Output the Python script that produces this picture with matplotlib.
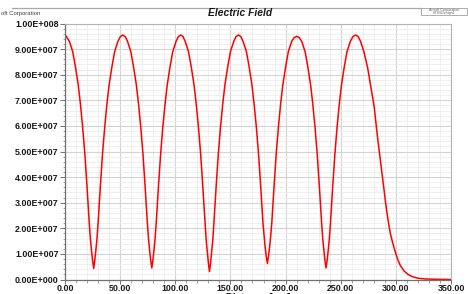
import numpy as np
import matplotlib
matplotlib.use("Agg")
import matplotlib.pyplot as plt
from matplotlib.ticker import MultipleLocator, FuncFormatter

# Electric field magnitude along the structure
# distance in um, field in units of 1e7
dist = [
    0, 4, 7, 9.5, 12, 14, 16, 18, 20, 22, 23, 24, 25, 26,
    27, 28, 29, 30, 32, 34, 36, 38, 40, 42.5, 45, 48, 50.2, 52.4,
    54.6, 56.7, 59.7, 62.2, 64.7, 66.7, 68.7, 70.7, 72.7, 74.7, 75.7, 76.7, 77.7, 78.7,
    79.7, 80.7, 81.7, 82.7, 84.7, 86.7, 88.7, 90.7, 92.7, 95.2, 97.7, 100.7, 102.8, 104.9,
    107, 109, 112, 114.5, 117, 119, 121, 123, 125, 127, 128, 129, 130, 131,
    132, 133, 134, 135, 137, 139, 141, 143, 145, 147.5, 150, 153, 155.1, 157.2,
    159.4, 161.5, 164.5, 167, 169.5, 171.5, 173.5, 175.5, 177.5, 179.5, 180.5, 181.5, 182.5, 183.5,
    184.5, 185.5, 186.5, 187.5, 189.5, 191.5, 193.5, 195.5, 197.5, 200, 202.5, 205.5, 207.8, 210.1,
    212.4, 214.7, 217.7, 220.2, 222.7, 224.7, 226.7, 228.7, 230.7, 232.7, 233.7, 234.7, 235.7, 236.7,
    237.7, 238.7, 239.7, 240.7, 242.7, 244.7, 246.7, 248.7, 250.7, 253.2, 255.7, 258.7, 261.1, 263.5,
    265.8, 268, 271, 274.3, 277, 280.4, 283, 285, 287, 289, 291, 293, 295, 297, 299,
    301.5, 304, 307.5, 311, 315, 320, 327, 335, 350,
]
efield = [
    9.57, 9.3, 8.9, 8.3, 7.6, 6.85, 5.95, 4.9, 3.6, 2.2, 1.6, 1.15, 0.75, 0.43,
    0.75, 1.15, 1.6, 2.2, 3.6, 4.9, 5.95, 6.85, 7.6, 8.3, 8.9, 9.3, 9.49, 9.55,
    9.49, 9.3, 8.9, 8.3, 7.6, 6.85, 5.95, 4.9, 3.6, 2.2, 1.6, 1.15, 0.75, 0.45,
    0.75, 1.15, 1.6, 2.2, 3.6, 4.9, 5.95, 6.85, 7.6, 8.3, 8.9, 9.3, 9.49, 9.55,
    9.49, 9.3, 8.9, 8.3, 7.6, 6.85, 5.95, 4.9, 3.6, 2.2, 1.55, 1.1, 0.65, 0.31,
    0.65, 1.1, 1.55, 2.2, 3.6, 4.9, 5.95, 6.85, 7.6, 8.3, 8.9, 9.3, 9.49, 9.55,
    9.49, 9.3, 8.9, 8.3, 7.6, 6.85, 5.95, 4.9, 3.6, 2.2, 1.7, 1.25, 0.9, 0.63,
    0.9, 1.25, 1.7, 2.2, 3.6, 4.9, 5.95, 6.85, 7.6, 8.3, 8.9, 9.3, 9.45, 9.5,
    9.45, 9.3, 8.9, 8.3, 7.6, 6.85, 5.95, 4.9, 3.6, 2.2, 1.6, 1.15, 0.75, 0.45,
    0.75, 1.15, 1.6, 2.2, 3.6, 4.9, 5.95, 6.85, 7.6, 8.3, 8.9, 9.3, 9.49, 9.55,
    9.49, 9.3, 8.9, 8.3, 7.6, 6.73, 5.7, 5.0, 4.3, 3.6, 2.9, 2.3, 1.8, 1.45, 1.15,
    0.8, 0.55, 0.33, 0.2, 0.11, 0.05, 0.02, 0.01, 0.0,
]
scale = 1e7

plt.rcParams['font.family'] = ['Liberation Sans', 'DejaVu Sans']


def sci_fmt(v, pos):
    '''Format like 1.00E+008.'''
    m, e = f"{v:.2E}".split("E")
    return f"{m}E{int(e):+04d}"


fig = plt.figure(figsize=(4.68, 2.94), dpi=100)
ax = fig.add_axes([65 / 468, 1 - 279.5 / 294, 386 / 468, 256 / 294])

ax.plot(dist, np.array(efield) * scale, color='#ff0000', lw=1.1)

ax.set_xlim(0, 350)
ax.set_ylim(0, 1e8)
ax.xaxis.set_major_locator(MultipleLocator(50))
ax.xaxis.set_minor_locator(MultipleLocator(10))
ax.yaxis.set_major_locator(MultipleLocator(1e7))
ax.yaxis.set_minor_locator(MultipleLocator(2e6))
ax.xaxis.set_major_formatter(FuncFormatter(lambda v, p: f"{v:.2f}"))
ax.yaxis.set_major_formatter(FuncFormatter(sci_fmt))

ax.grid(which='major', color='#d4d4d4', lw=0.8)
ax.grid(which='minor', color='#ececec', lw=0.6)
ax.set_axisbelow(True)

for s in ['top', 'right']:
    ax.spines[s].set_color('#b4b4b4')
for s in ['left', 'bottom']:
    ax.spines[s].set_color('#707070')
    ax.spines[s].set_linewidth(0.9)

ax.tick_params(which='major', length=3.6, width=0.7, color='#707070', pad=1,
               labelsize=6.4, labelcolor='#1a1a1a')
ax.tick_params(which='minor', length=1.8, width=0.6, color='#909090')
ax.tick_params(axis='x', which='major', length=2.6, pad=0.3)
for lab in ax.get_xticklabels() + ax.get_yticklabels():
    lab.set_fontweight('bold')

# title and window decorations
fig.text(240 / 468, 1 - 13.5 / 294, "Electric Field", ha='center', va='center',
         fontsize=7.4, fontweight='bold', fontstyle='italic', color='#1a1a1a')
fig.text(1 / 468, 1 - 14 / 294, "oft Corporation", ha='left', va='center',
         fontsize=4.3, color='#444444')
fig.add_artist(plt.Line2D([12 / 468, 421 / 468], [1 - 8 / 294, 1 - 8 / 294],
                          color='#a8a8a8', lw=0.9))
fig.add_artist(plt.Rectangle((421 / 468, 1 - 15 / 294), 46 / 468, 7 / 294,
                             fill=False, edgecolor='#a0a0a0', lw=0.6))
fig.text(444 / 468, 1 - 9.5 / 294, "Ansoft Corporation", ha='center', va='center',
         fontsize=2.6, color='#666666')
fig.text(444 / 468, 1 - 13.3 / 294, "HFSSDesign1", ha='center', va='center',
         fontsize=2.6, color='#666666')
fig.text(258 / 468, 1 - 298 / 294, "Distance [um]", ha='center', va='center',
         fontsize=7, fontweight='bold', color='#1a1a1a')

fig.savefig("out.png", dpi=100)
